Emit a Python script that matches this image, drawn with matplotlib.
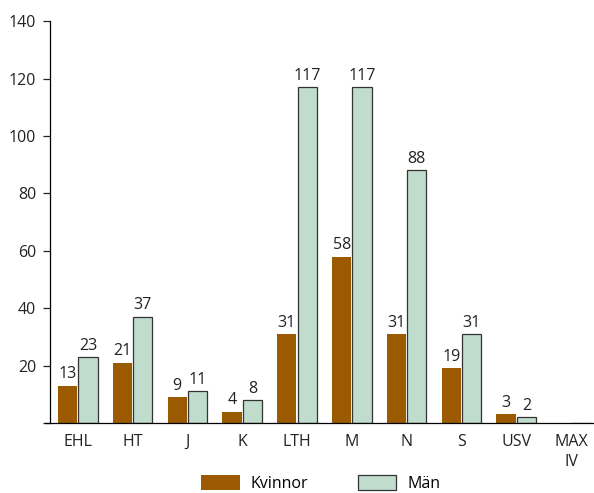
import numpy as np
import matplotlib.pyplot as plt

categories = ["EHL", "HT", "J", "K", "LTH", "M", "N", "S", "USV", "MAX\nIV"]
kvinnor = [13, 21, 9, 4, 31, 58, 31, 19, 3, 0]
man = [23, 37, 11, 8, 117, 117, 88, 31, 2, 0]

brown = "#9b5a00"
green = "#c0dccc"
fs = 11.5

plt.rcParams["font.family"] = ["Open Sans", "DejaVu Sans"]

fig = plt.figure(figsize=(5.94, 4.93), dpi=100)
ax = fig.add_axes([0.084, 0.142, 0.916, 0.815])

x = np.arange(len(categories))
w = 0.35

b1 = ax.bar(x - w / 2 - 0.01, kvinnor, w, color=brown, label="Kvinnor")
b2 = ax.bar(x + w / 2 + 0.01, man, w, color=green, edgecolor="#333333",
            linewidth=0.9, label="Män")

for bars, vals in [(b1, kvinnor), (b2, man)]:
    for rect, v in zip(bars, vals):
        if v == 0:
            continue
        ax.annotate(str(v), (rect.get_x() + rect.get_width() / 2, v),
                    xytext=(0, 2.5), textcoords="offset points",
                    ha="center", va="bottom", fontsize=fs, color="#222222")

ax.set_xlim(-0.51, 9.42)
ax.set_ylim(0, 140)
ax.set_yticks(range(0, 141, 20))
ax.set_yticklabels(["", "20", "40", "60", "80", "100", "120", "140"])
ax.set_xticks(x)
ax.set_xticklabels(categories, linespacing=1.3)
ax.tick_params(axis="x", length=0, pad=8, labelsize=fs, colors="#222222")
ax.tick_params(axis="y", length=5, width=0.9, pad=5, labelsize=fs, colors="#222222")
for s in ["top", "right"]:
    ax.spines[s].set_visible(False)
ax.spines["left"].set_linewidth(0.9)
ax.spines["bottom"].set_linewidth(0.9)
ax.spines["bottom"].set_bounds(-0.6, 9.42)
ax.spines["bottom"].set_clip_on(False)

fig.legend(handles=[b1, b2], loc="upper center", bbox_to_anchor=(0.54, 0.036),
           ncol=2, frameon=False, fontsize=fs, handlelength=2.4,
           handleheight=1.0, handletextpad=0.7, columnspacing=3.1,
           borderpad=0.0, borderaxespad=0.0)

fig.savefig("out.png", dpi=100)
